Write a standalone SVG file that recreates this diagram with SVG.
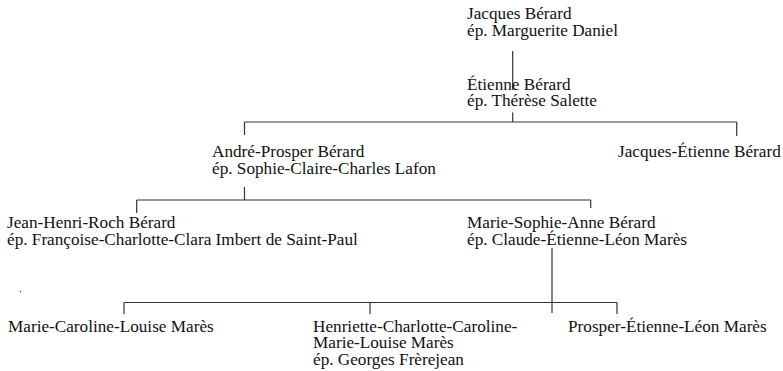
<svg xmlns="http://www.w3.org/2000/svg" width="783" height="371" viewBox="0 0 783 371">
<style>
text{font-family:"Liberation Serif","Times New Roman",serif;font-size:17.2px;fill:#111}
.c line{stroke:#333;stroke-width:1.2;fill:none}
</style>
<rect width="783" height="371" fill="#fff"/>
<g class="c" id="connectors">
<line x1="512.7" y1="51" x2="512.7" y2="90"/>
<line x1="512.7" y1="112.5" x2="512.7" y2="122"/>
<line x1="244.5" y1="122" x2="736.7" y2="122"/>
<line x1="244.5" y1="122" x2="244.5" y2="135"/>
<line x1="736.7" y1="122" x2="736.7" y2="136"/>
<line x1="244.5" y1="187" x2="244.5" y2="200"/>
<line x1="136.7" y1="200" x2="590.7" y2="200"/>
<line x1="136.7" y1="200" x2="136.7" y2="213"/>
<line x1="590.7" y1="200" x2="590.7" y2="208"/>
<line x1="552" y1="248" x2="552" y2="313"/>
<line x1="124" y1="302.5" x2="617" y2="302.5"/>
<line x1="124" y1="302.5" x2="124" y2="314"/>
<line x1="370" y1="302.5" x2="370" y2="314"/>
<line x1="617" y1="302.5" x2="617" y2="314"/>
</g>
<rect x="20" y="291" width="1.2" height="1.2" fill="#333"/>
<g id="jacques"><text x="467" y="19.3">Jacques Bérard</text><text x="467" y="36">ép. Marguerite Daniel</text></g>
<g id="etienne"><text x="467" y="89.5">Étienne Bérard</text><text x="467" y="106">ép. Thérèse Salette</text></g>
<g id="andre"><text x="212" y="157">André-Prosper Bérard</text><text x="212" y="173.5">ép. Sophie-Claire-Charles Lafon</text></g>
<g id="jacques-etienne"><text x="618" y="157">Jacques-Étienne Bérard</text></g>
<g id="jean-henri"><text x="7" y="228.3">Jean-Henri-Roch Bérard</text><text x="7" y="245">ép. Françoise-Charlotte-Clara Imbert de Saint-Paul</text></g>
<g id="marie-sophie"><text x="467" y="228.3">Marie-Sophie-Anne Bérard</text><text x="467" y="245">ép. Claude-Étienne-Léon Marès</text></g>
<g id="marie-caroline"><text x="8" y="331.5">Marie-Caroline-Louise Marès</text></g>
<g id="henriette"><text x="313" y="331.5">Henriette-Charlotte-Caroline-</text><text x="313" y="348">Marie-Louise Marès</text><text x="313" y="364.5">ép. Georges Frèrejean</text></g>
<g id="prosper"><text x="568" y="331.5">Prosper-Étienne-Léon Marès</text></g>
</svg>
